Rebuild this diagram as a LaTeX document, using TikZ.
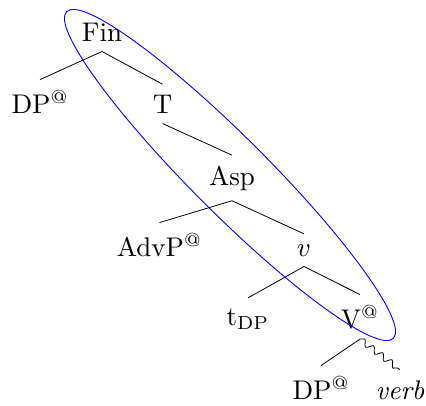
\RequirePackage{fix-cm}
\documentclass[tikz,border=0pt]{standalone}
\usetikzlibrary{decorations.pathmorphing}
\newcommand\Sz[1]{\scalebox{2.7}{#1}}
\tikzset{
  lab/.style={anchor=base, inner xsep=2pt, inner ysep=10.5pt, outer sep=0pt, font=\fontsize{10}{12}\selectfont},
  edge/.style={line width=0.8pt, black},
  wavy/.style={line width=0.8pt, black, decorate, decoration={snake, amplitude=3pt, segment length=11.5pt}},
  loop/.style={line width=0.9pt, blue}
}
\begin{document}
\begin{tikzpicture}[x=1pt,y=-1pt]
\useasboundingbox (0,0) rectangle (426,405);
\node[lab] (fin) at (102,41) {\Sz{Fin}};
\node[lab] (dp1) at (40,113) {\Sz{DP$^{@}$}};
\node[lab] (t) at (162.5,113) {\Sz{T}};
\node[lab] (asp) at (232,185) {\Sz{Asp}};
\node[lab] (advp) at (159.5,256) {\Sz{AdvP$^{@}$}};
\node[lab] (v) at (304,256) {\Sz{$v$}};
\node[lab] (tdp) at (248,325) {\Sz{t$_{\mathrm{DP}}$}};
\node[lab] (V) at (360,328) {\Sz{V$^{@}$}};
\node[lab] (dp2) at (321,399) {\Sz{DP$^{@}$}};
\node[lab] (verb) at (400,399) {\Sz{\textit{verb}}};
\draw[edge] (dp1.north) -- (fin.south) -- (t.north);
\draw[edge] (t.south) -- (asp.north);
\draw[edge] (advp.north) -- (asp.south) -- (v.north);
\draw[edge] (tdp.north) -- (v.south) -- (V.north);
\draw[edge] (dp2.north) -- (V.south);
\draw[wavy] (V.south) -- (verb.north);
\coordinate (ec) at (230,175);
\draw[loop, rotate around={-45:(ec)}] (ec) ellipse [x radius=231pt, y radius=38pt];
\end{tikzpicture}
\end{document}
